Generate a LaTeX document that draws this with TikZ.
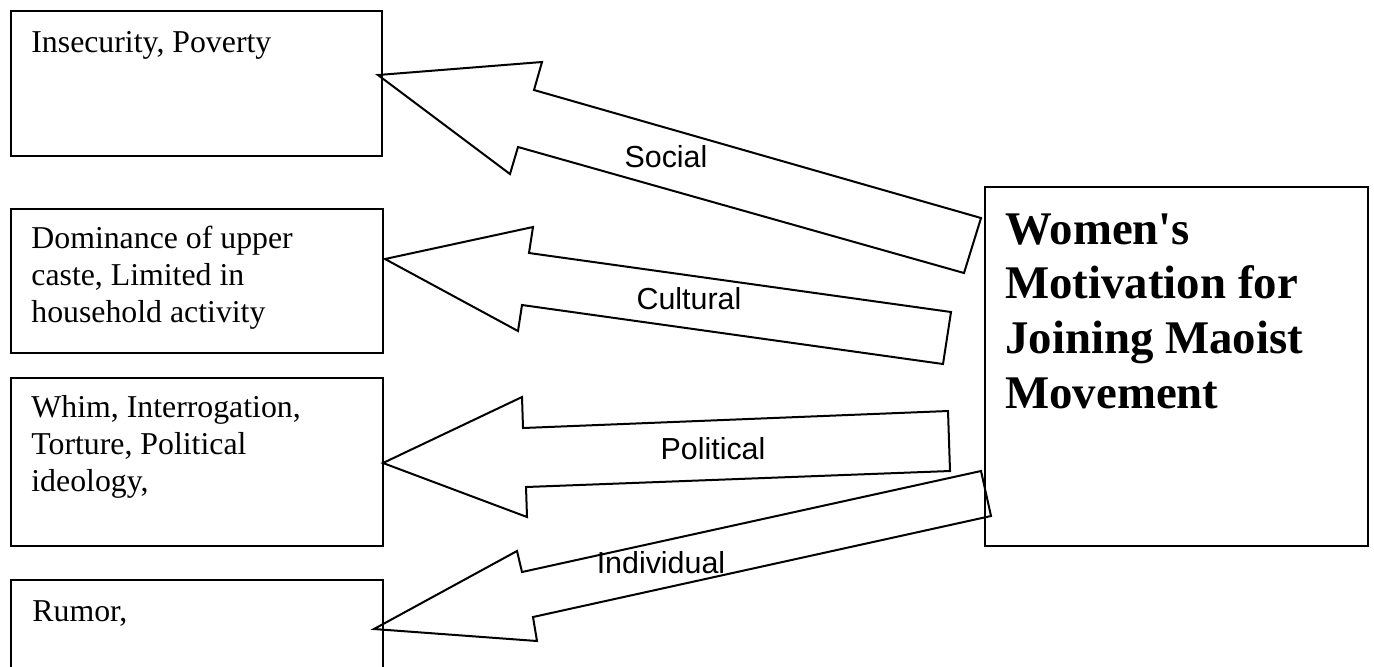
\documentclass[tikz,border=0pt]{standalone}
\usepackage{fontspec}
\setmainfont{Liberation Serif}
\newfontfamily\labelfont{Liberation Sans}
\begin{document}
\begin{tikzpicture}[x=0.5pt,y=-0.5pt,
  box/.style={draw=black, line width=1pt, rectangle, inner sep=0pt},
  boxtext/.style={anchor=base west, inner sep=0pt, align=left, font=\fontsize{15.9}{18.5}\selectfont},
  bigtext/.style={anchor=base west, inner sep=0pt, align=left, font=\fontsize{23.4}{27.3}\selectfont\bfseries},
  lab/.style={inner sep=0pt, font=\labelfont\fontsize{15.2}{18}\selectfont},
  blockarrow/.style={draw=black, line width=1pt, line join=miter}
]
\useasboundingbox (0,0) rectangle (1374,666);

% block arrows
\draw[blockarrow] (378,75) -- (542,62) -- (534,90) -- (981,218) -- (964,273) -- (518,147) -- (510,174) -- cycle;
\draw[blockarrow] (385,259) -- (533,227) -- (529,253) -- (951,312) -- (943,364) -- (522,305) -- (518,331) -- cycle;
\draw[blockarrow] (383,463) -- (522,397) -- (523,428) -- (948,411) -- (950,471) -- (526,487) -- (527,517) -- cycle;
\draw[blockarrow] (374,629) -- (517,551) -- (522,572) -- (981,471) -- (991,516) -- (533,617) -- (537,641) -- cycle;

% boxes
\node[box, minimum width=185.5pt, minimum height=72.5pt] (b1) at (196.5,83.5) {};
\node[box, minimum width=186pt, minimum height=72pt] (b2) at (197,281) {};
\node[box, minimum width=186pt, minimum height=84pt] (b3) at (197,462) {};
\node[box, minimum width=186pt, minimum height=46pt] (b4) at (197,626) {};
\node[box, minimum width=191.5pt, minimum height=179.5pt] (big) at (1176.5,366.5) {};

% box texts (anchor base = baseline of last line)
\node[boxtext] (t1) at (31,52) {Insecurity, Poverty};
\node[boxtext] (t2) at (31,322) {Dominance of upper\\caste, Limited in\\household activity};
\node[boxtext] (t3) at (31,491) {Whim, Interrogation,\\Torture, Political\\ideology,};
\node[boxtext] (t4) at (32,621) {Rumor,};
\node[bigtext] (tb) at (1005,408) {Women\textquotesingle s\\Motivation for\\Joining Maoist\\Movement};

% arrow labels
\node[lab] (l1) at (666,157) {Social};
\node[lab] (l2) at (689,299) {Cultural};
\node[lab] (l3) at (713,449) {Political};
\node[lab] (l4) at (661,563) {Individual};
\end{tikzpicture}
\end{document}
